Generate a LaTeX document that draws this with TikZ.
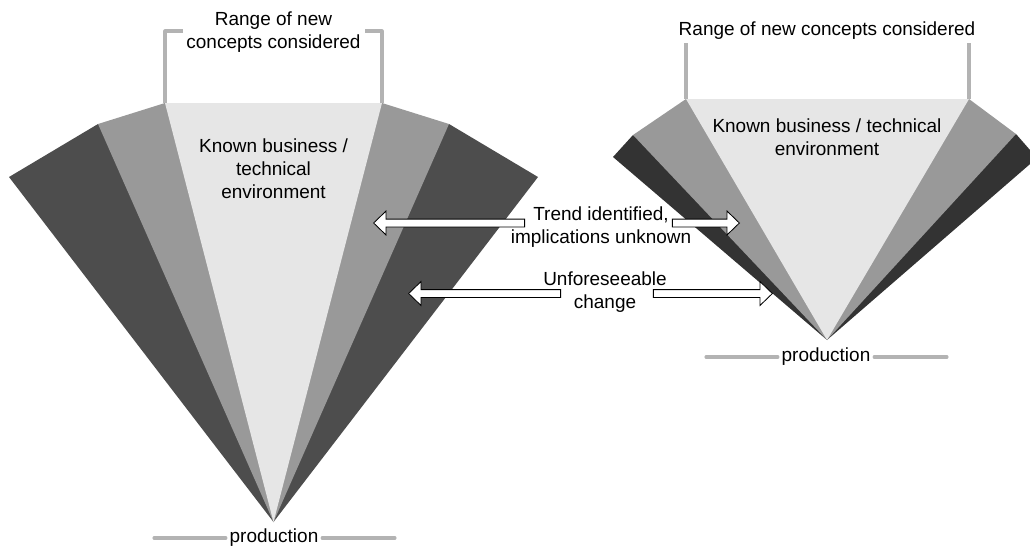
\documentclass[tikz,border=0pt]{standalone}
\usepackage{fontspec}
\setmainfont{Liberation Sans}
\usetikzlibrary{shapes.arrows}
\definecolor{lightband}{HTML}{E6E6E6}
\definecolor{midband}{HTML}{999999}
\definecolor{darkband}{HTML}{4D4D4D}
\definecolor{darkerband}{HTML}{333333}
\definecolor{rangeline}{HTML}{B3B3B3}
\tikzset{
	fan text/.style={anchor=center, align=center, inner sep=0pt, font=\fontsize{13.5}{16.4}\selectfont},
	prod text/.style={fan text, inner xsep=2.5pt},
	range line/.style={draw=rangeline, line width=2.2pt, line join=round},
	prod line/.style={draw=rangeline, line width=2.2pt, line cap=round},
	block arrow/.style={shape=single arrow, draw=black, fill=white, line width=0.6pt, inner xsep=0pt, inner ysep=0.0875cm, single arrow head extend=0.2cm, single arrow tip angle=88, anchor=tip},
}
\begin{document}
\begin{tikzpicture}[x=0.025cm, y=-0.025cm]
	\useasboundingbox (0, 0) rectangle (1030, 547);
	% wide fan
	\coordinate (apexL) at (273.5, 522);
	\coordinate (lightTL) at (165, 103);
	\coordinate (lightTR) at (382, 103);
	\coordinate (midTL) at (98, 124);
	\coordinate (midTR) at (449, 124);
	\coordinate (darkTL) at (9, 177);
	\coordinate (darkTR) at (538, 177);
	\fill[darkband] (apexL) -- (darkTL) -- (midTL) -- (midTR) -- (darkTR) -- cycle;
	\fill[midband] (apexL) -- (midTL) -- (lightTL) -- (lightTR) -- (midTR) -- cycle;
	\fill[lightband] (apexL) -- (lightTL) -- (lightTR) -- cycle;
	% narrow fan
	\coordinate (apexR) at (827, 340);
	\coordinate (lightRL) at (686, 99);
	\coordinate (lightRR) at (969, 99);
	\coordinate (midRL) at (633, 135);
	\coordinate (midRR) at (1016, 134);
	\coordinate (darkRL) at (613, 157);
	\coordinate (darkRR) at (1037, 158);
	\fill[darkerband] (apexR) -- (darkRL) -- (midRL) -- (midRR) -- (darkRR) -- cycle;
	\fill[midband] (apexR) -- (midRL) -- (lightRL) -- (lightRR) -- (midRR) -- cycle;
	\fill[lightband] (apexR) -- (lightRL) -- (lightRR) -- cycle;

	\node[fan text] (rangeL) at (273.5, 32) {Range of new\\concepts considered};
	\node[fan text] (knownL) at (273.5, 169) {Known business /\\technical\\environment};
	\node[prod text] (prodL) at (274, 538) {production};
	\draw[range line] (183, 31) -- (165, 31) -- (lightTL);
	\draw[range line] (365, 31) -- (382, 31) -- (lightTR);
	\draw[prod line] (prodL.west) -- (154, 538);
	\draw[prod line] (prodL.east) -- (395, 538);

	\node[fan text] (rangeR) at (827, 31) {Range of new concepts considered};
	\node[fan text] (knownR) at (827, 137) {Known business / technical\\environment};
	\node[prod text] (prodR) at (826, 357) {production};
	\draw[range line] (686, 43) -- (lightRL);
	\draw[range line] (969, 43) -- (lightRR);
	\draw[prod line] (prodR.west) -- (706, 357);
	\draw[prod line] (prodR.east) -- (947, 357);

	\node[fan text] (trend) at (601, 227) {Trend identified,\\implications unknown};
	\node[fan text] (change) at (605, 292) {Unforeseeable\\change};
	\node[block arrow, shape border rotate=180, minimum height=3.775cm] (trendArrowL) at (373, 223) {};
	\node[block arrow, minimum height=1.675cm] (trendArrowR) at (740, 223) {};
	\node[block arrow, shape border rotate=180, minimum height=3.8cm] (changeArrowL) at (408, 293.5) {};
	\node[block arrow, minimum height=2.975cm] (changeArrowR) at (773, 293.5) {};
\end{tikzpicture}
\end{document}
